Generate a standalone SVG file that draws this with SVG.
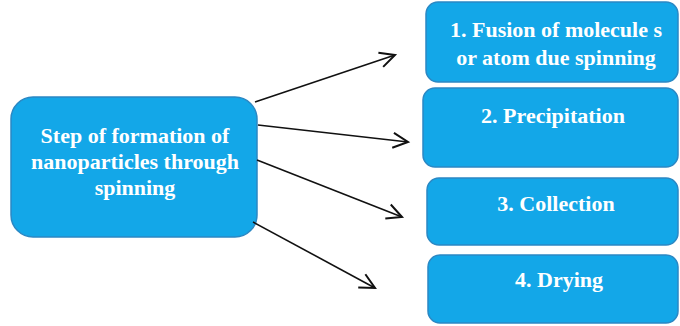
<svg xmlns="http://www.w3.org/2000/svg" width="680" height="326" viewBox="0 0 680 326">
<style>
.box{fill:#13a7e8;stroke:#2b88c4;stroke-width:1.5}
.t{font-family:"Liberation Serif","Times New Roman",serif;font-weight:bold;font-size:22px;fill:#ffffff;text-anchor:middle}
.c{stroke:#111111;stroke-width:1.6;fill:none}
</style>
<defs>
<marker id="arr" markerUnits="userSpaceOnUse" markerWidth="20" markerHeight="20" refX="0" refY="0" viewBox="-14 -8 16 16" orient="auto" overflow="visible">
<path d="M-12,-6 L0,0 L-12,6" fill="none" stroke="#111111" stroke-width="1.6"/>
</marker>
</defs>
<rect width="680" height="326" fill="#ffffff"/>
<g id="main">
<rect class="box" x="11" y="97" width="246" height="140" rx="22"/>
<text class="t" x="135" y="143">Step of formation of</text>
<text class="t" x="135" y="169">nanoparticles through</text>
<text class="t" x="135" y="195">spinning</text>
</g>
<g id="step1">
<rect class="box" x="426" y="2" width="252" height="80" rx="12"/>
<text class="t" x="556" y="37">1. Fusion of molecule s</text>
<text class="t" x="556" y="65">or atom due spinning</text>
</g>
<g id="step2">
<rect class="box" x="423" y="88" width="255" height="79" rx="12"/>
<text class="t" x="553" y="123">2. Precipitation</text>
</g>
<g id="step3">
<rect class="box" x="427" y="178" width="251" height="67" rx="12"/>
<text class="t" x="556" y="211">3. Collection</text>
</g>
<g id="step4">
<rect class="box" x="428" y="255" width="250" height="68" rx="12"/>
<text class="t" x="559" y="287">4. Drying</text>
</g>
<g id="connectors">
<line class="c" x1="255" y1="102" x2="395" y2="55" marker-end="url(#arr)"/>
<line class="c" x1="258" y1="125" x2="408" y2="142" marker-end="url(#arr)"/>
<line class="c" x1="257" y1="160" x2="402" y2="217" marker-end="url(#arr)"/>
<line class="c" x1="253" y1="222" x2="375" y2="288" marker-end="url(#arr)"/>
</g>
</svg>
